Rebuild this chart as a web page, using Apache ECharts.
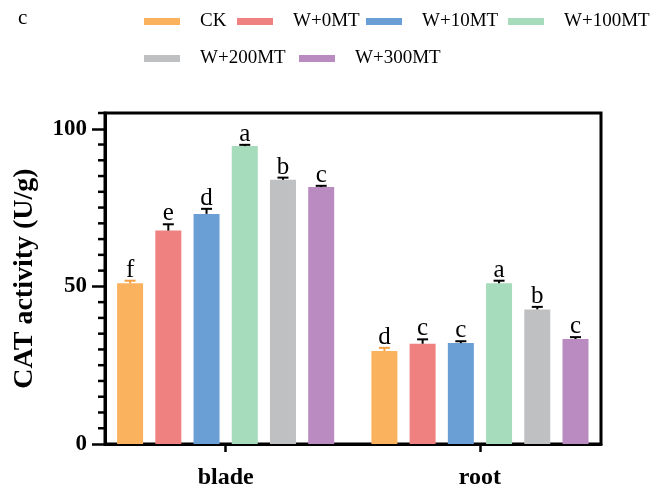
<!DOCTYPE html>
<html>
<head>
<meta charset="utf-8">
<script src="https://cdn.jsdelivr.net/npm/echarts@6/dist/echarts.min.js"></script>
<style>html,body{margin:0;padding:0;background:#fff;}#chart{width:650px;height:486px;}</style>
</head>
<body>
<div id="chart"></div>
<script>
// ---- data ----
var categories = ['blade', 'root'];
var seriesNames = ['CK', 'W+0MT', 'W+10MT', 'W+100MT', 'W+200MT', 'W+300MT'];
var ckValues      = [51.0, 29.5];
var w0Values      = [67.7, 31.8];
var w10Values     = [73.0, 32.0];
var w100Values    = [94.5, 51.0];
var w200Values    = [83.8, 42.7];
var w300Values    = [81.5, 33.3];
var ckErr   = [0.8, 1.0];
var w0Err   = [2.0, 1.4];
var w10Err  = [1.6, 0.6];
var w100Err = [0.4, 0.8];
var w200Err = [0.7, 0.8];
var w300Err = [0.4, 0.6];
var ckLetters   = ['f', 'd'];
var w0Letters   = ['e', 'c'];
var w10Letters  = ['d', 'c'];
var w100Letters = ['a', 'a'];
var w200Letters = ['b', 'b'];
var w300Letters = ['c', 'c'];
var yTickLabels = [0, 50, 100];

var values  = [ckValues, w0Values, w10Values, w100Values, w200Values, w300Values];
var errs    = [ckErr, w0Err, w10Err, w100Err, w200Err, w300Err];
var letters = [ckLetters, w0Letters, w10Letters, w100Letters, w200Letters, w300Letters];
var colors  = ['#FBB25E', '#F08181', '#6A9FD5', '#A6DBBC', '#BFC0C2', '#B98BC1'];
var errColors = ['#F5A040', '#000', '#000', '#000', '#000', '#000'];

var SERIF = '"Liberation Serif", "Times New Roman", "DejaVu Serif", serif';
var BAR_W = 26, BAR_GAP = '47%';
var Y_MAX = 105, MINOR_STEP = 5;
var minorTickValues = [];
for (var t = 0; t <= Y_MAX; t += MINOR_STEP) {
  if (yTickLabels.indexOf(t) < 0) { minorTickValues.push(t); }
}

var chart = echarts.init(document.getElementById('chart'), null, {renderer: 'canvas'});

var series = [];
seriesNames.forEach(function (name, i) {
  series.push({
    name: name, type: 'bar', xAxisIndex: 0, yAxisIndex: 0,
    barWidth: BAR_W, barGap: BAR_GAP,
    itemStyle: {color: colors[i]},
    data: values[i]
  });
});
seriesNames.forEach(function (name, i) {
  series.push({
    type: 'custom', xAxisIndex: 0, yAxisIndex: 0, z: 5, clip: false,
    silent: true,
    data: categories.map(function (c, k) { return [k, values[i][k], errs[i][k]]; }),
    renderItem: function (params, api) {
      var k = api.value(0), v = api.value(1), e = api.value(2);
      var layout = api.barLayout({count: 6, barWidth: BAR_W, barGap: BAR_GAP});
      var off = layout[i].offsetCenter;
      var p0 = api.coord([k, v]);
      var p1 = api.coord([k, v + e]);
      var x = p0[0] + off;
      var capHalf = 5.5;
      return {
        type: 'group',
        children: [
          {type: 'line', shape: {x1: x, y1: p0[1], x2: x, y2: p1[1]},
           style: {stroke: errColors[i], lineWidth: 2}},
          {type: 'line', shape: {x1: x - capHalf, y1: p1[1], x2: x + capHalf, y2: p1[1]},
           style: {stroke: errColors[i], lineWidth: 2}},
          {type: 'text', x: x, y: p1[1] + 2,
           style: {text: letters[i][k], textAlign: 'center', textVerticalAlign: 'bottom',
                   font: '25px ' + SERIF, fill: '#000'}}
        ]
      };
    }
  });
});
// minor axis ticks of the y axis (every 5 units), placed through the axis scale
series.push({
  type: 'custom', xAxisIndex: 1, yAxisIndex: 1, z: 6, clip: false, silent: true,
  data: minorTickValues.map(function (v) { return [0, v]; }),
  renderItem: function (params, api) {
    var y = api.coord([0, api.value(1)])[1];
    var x0 = params.coordSys.x;
    return {type: 'line', shape: {x1: x0 - 7, y1: y, x2: x0, y2: y},
            style: {stroke: '#000', lineWidth: 2.5}};
  }
});

var legendPos = [
  {left: 144, top: 12}, {left: 237, top: 12}, {left: 366, top: 12}, {left: 508, top: 12},
  {left: 144, top: 49}, {left: 299, top: 49}
];
var legends = seriesNames.map(function (n, i) {
  return {
    data: [n], left: legendPos[i].left, top: legendPos[i].top, padding: 0,
    icon: 'rect', itemWidth: 36, itemHeight: 7, selectedMode: false,
    textStyle: {fontFamily: SERIF, fontSize: 19, color: '#000', padding: [0, 0, 0, 15]}
  };
});

var option = {
  backgroundColor: '#fff',
  animation: false,
  title: {text: 'c', left: 18, top: 8, padding: 0,
          textStyle: {fontFamily: SERIF, fontSize: 21, fontWeight: 'normal', color: '#000'}},
  legend: legends,
  grid: [
    {left: 98.5, top: 113, width: 508.6, height: 331, show: false, outerBoundsMode: 'none', containLabel: false},
    {left: 105, top: 113, width: 496, height: 331,
     show: true, borderColor: '#000', borderWidth: 3,
     backgroundColor: 'transparent', outerBoundsMode: 'none', containLabel: false}
  ],
  xAxis: [
    {type: 'category', gridIndex: 0, data: categories,
     axisLine: {show: false},
     axisTick: {show: true, alignWithLabel: true, length: 8, lineStyle: {color: '#000', width: 2.5}},
     axisLabel: {fontFamily: SERIF, fontSize: 24, fontWeight: 'bold', color: '#000', margin: 22}},
    {type: 'category', gridIndex: 1, data: categories,
     axisLine: {show: true, lineStyle: {color: '#000', width: 3}},
     axisTick: {show: false}, axisLabel: {show: false}}
  ],
  yAxis: [
    {type: 'value', gridIndex: 0, min: 0, max: Y_MAX, show: false, splitLine: {show: false}},
    {type: 'value', gridIndex: 1, position: 'left', min: 0, max: Y_MAX,
     name: 'CAT activity (U/g)', nameLocation: 'middle', nameGap: 66,
     nameTextStyle: {fontFamily: SERIF, fontSize: 28, fontWeight: 'bold', color: '#000'},
     axisLine: {show: true, lineStyle: {color: '#000', width: 3}},
     axisTick: {show: true, length: 13, customValues: yTickLabels, lineStyle: {color: '#000', width: 2.5}},
     axisLabel: {show: true, customValues: yTickLabels, fontFamily: SERIF, fontSize: 23, fontWeight: 'bold',
                 color: '#000', margin: 18},
     splitLine: {show: false}}
  ],
  series: series
};
chart.setOption(option);
</script>
</body>
</html>
